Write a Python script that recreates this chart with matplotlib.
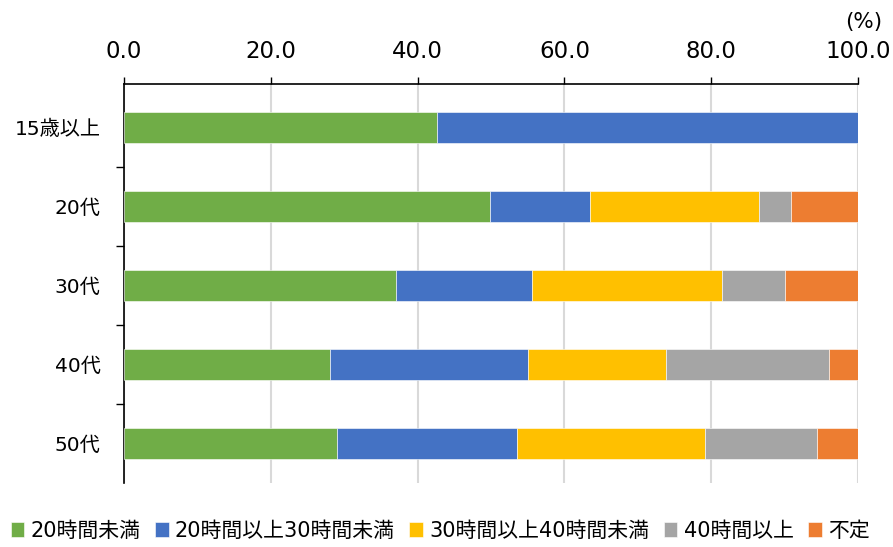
import matplotlib.pyplot as plt
import numpy as np

plt.rcParams['font.family'] = ['DejaVu Sans', 'Noto Sans CJK JP']

groups = ["15歳以上", "20代", "30代", "40代", "50代"]
series = ["20時間未満", "20時間以上30時間未満", "30時間以上40時間未満", "40時間以上", "不定"]
under20 = [42.7, 49.8, 37.0, 28.0, 29.0]
h20_30 = [57.3, 13.7, 18.6, 27.0, 24.6]
h30_40 = [0.0, 23.0, 25.9, 18.9, 25.5]
over40 = [0.0, 4.4, 8.5, 22.2, 15.3]
undecided = [0.0, 9.1, 10.0, 3.9, 5.6]
colors = ["#70AD47", "#4472C4", "#FFC000", "#A5A5A5", "#ED7D31"]

fig = plt.figure(figsize=(8.93, 5.47), dpi=100)
ax = fig.add_axes([124 / 893, 64 / 547, 734 / 893, 399 / 547])

y = np.arange(len(groups))
left = np.zeros(len(groups))
for vals, name, c in zip([under20, h20_30, h30_40, over40, undecided], series, colors):
    ax.barh(y, vals, left=left, height=0.4, color=c, label=name,
            edgecolor="white", linewidth=0.4, zorder=3)
    left += np.array(vals)

ax.set_xlim(0, 100)
ax.set_ylim(4.5, -0.55)
ax.xaxis.tick_top()
ax.set_xticks(np.arange(0, 101, 20))
ax.set_xticklabels([f"{v:.1f}" for v in range(0, 101, 20)], fontsize=16.5)
ax.tick_params(axis="x", direction="out", length=5, width=1, pad=10, colors="black")
ax.grid(axis="x", color="#D9D9D9", linewidth=1.5, zorder=0)

ax.set_yticks(y)
ax.set_yticklabels(groups, fontsize=14.5)
ax.tick_params(axis="y", which="major", length=0, pad=17)
ax.set_yticks(np.arange(0.5, 4.0, 1), minor=True)
ax.tick_params(axis="y", which="minor", direction="out", length=6, width=1)

for s in ["right", "bottom"]:
    ax.spines[s].set_visible(False)
ax.spines["top"].set_linewidth(1.2)
ax.spines["left"].set_linewidth(1.2)

fig.text(882 / 893, 1 - 22 / 547, "(%)", ha="right", va="center", fontsize=15.5)

fig.legend(loc="center", bbox_to_anchor=(0.493, 1 - 531 / 547), ncol=5, frameon=False,
           fontsize=15, handlelength=0.65, handleheight=0.7, handletextpad=0.3,
           columnspacing=0.7, borderaxespad=0)

fig.savefig("out.png", dpi=100)
